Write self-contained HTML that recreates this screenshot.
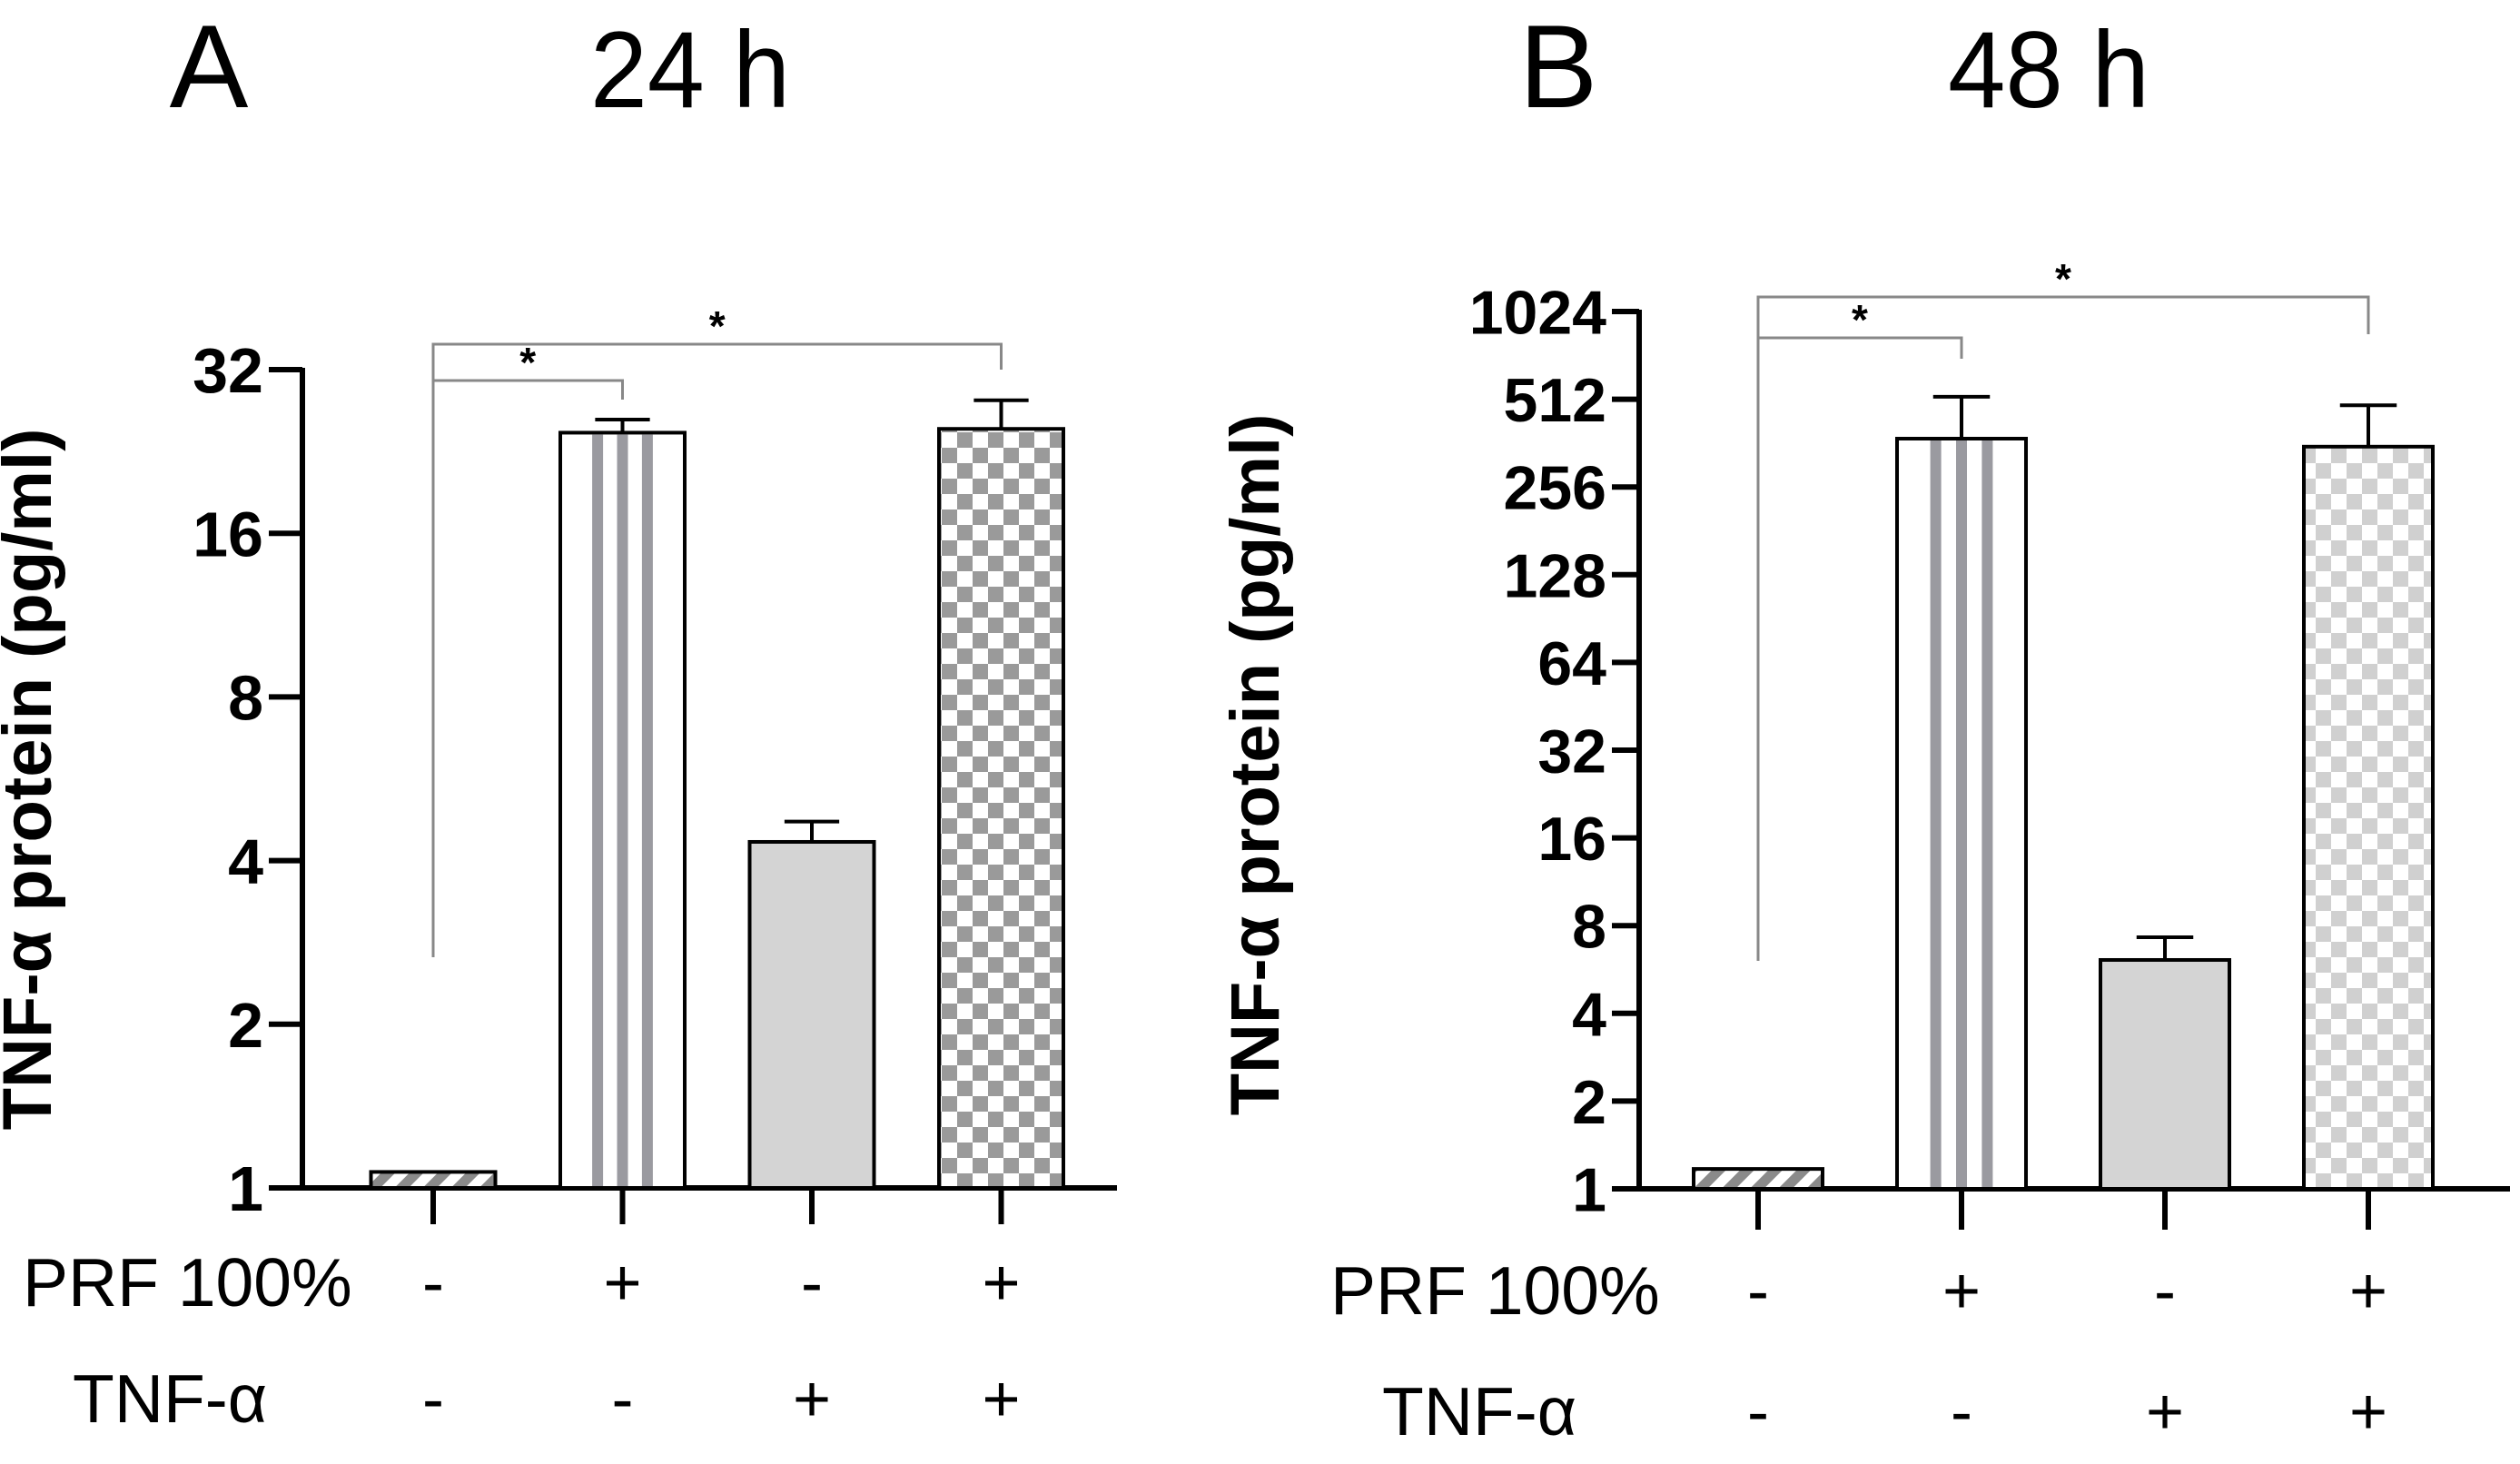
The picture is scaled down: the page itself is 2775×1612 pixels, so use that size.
<!DOCTYPE html>
<html><head><meta charset="utf-8"><style>
html,body{margin:0;padding:0;background:#fff}
svg{display:block}
text{font-family:"Liberation Sans",sans-serif}
</style></head><body>
<svg id="chart" width="2775" height="1612" viewBox="0 0 2775 1612" xmlns="http://www.w3.org/2000/svg">
<defs>
<pattern id="diag" patternUnits="userSpaceOnUse" width="22" height="22" patternTransform="rotate(45)"><rect width="22" height="22" fill="#fff"/><rect width="11" height="22" fill="#8a8a8a"/></pattern>
<pattern id="checkA" patternUnits="userSpaceOnUse" width="34" height="34"><rect width="34" height="34" fill="#fff"/><rect width="17" height="17" fill="#9a9a9a"/><rect x="17" y="17" width="17" height="17" fill="#9a9a9a"/></pattern>
<pattern id="checkB" patternUnits="userSpaceOnUse" width="34" height="34"><rect width="34" height="34" fill="#fff"/><rect width="17" height="17" fill="#d0d0d0"/><rect x="17" y="17" width="17" height="17" fill="#d0d0d0"/></pattern>
</defs>
<text x="230" y="118" font-size="130" text-anchor="middle">A</text>
<text x="760" y="118" font-size="120" text-anchor="middle" textLength="220" lengthAdjust="spacingAndGlyphs">24 h</text>
<text x="1716" y="118" font-size="130" text-anchor="middle">B</text>
<text x="2256" y="118" font-size="120" text-anchor="middle" textLength="222" lengthAdjust="spacingAndGlyphs">48 h</text>
<g id="pa"></g>
<g id="pb"></g>
</svg>
<script>
// Panel A (24 h)
const categories = ["ctrl","PRF","TNF","PRF+TNF"];
const prfRow = ["-","+","-","+"];
const tnfRow = ["-","-","+","+"];
const fills = ["url(#diag)","stripes","#d4d4d4","check"];
const valuesA = [1.07, 24.5, 4.33, 24.9];
const errorsA = [0, 1.4, 0.39, 3.2];
const ticksA = [1,2,4,8,16,32];
// Panel B (48 h)
const valuesB = [1.17, 375, 6.1, 352];
const errorsB = [0, 147, 1.2, 136];
const ticksB = [1,2,4,8,16,32,64,128,256,512,1024];
const sigA = [[0,1,"*"],[0,3,"*"]];
const sigB = [[0,1,"*"],[0,3,"*"]];

const NS="http://www.w3.org/2000/svg";
function mk(parent,tag,attrs){const e=document.createElementNS(NS,tag);for(const k in attrs)e.setAttribute(k,attrs[k]);parent.appendChild(e);return e;}

function panel(g,cfg){
  const y=v=>cfg.base-Math.log2(v)/Math.log2(cfg.max)*(cfg.base-cfg.top);
  const x=i=>cfg.x0+i*cfg.step;
  let a=mk(g,"line",{x1:cfg.ax,y1:y(cfg.max)-2,x2:cfg.ax,y2:cfg.base+3,stroke:"#000","stroke-width":6});
  
  
  a=mk(g,"line",{x1:cfg.ax-3,y1:cfg.base,x2:cfg.axEnd,y2:cfg.base,stroke:"#000","stroke-width":6});
  
  
  cfg.ticks.forEach(t=>{
    const tk=mk(g,"line",{x1:cfg.ax-cfg.tickLen,y1:y(t),x2:cfg.ax,y2:y(t),stroke:"#000","stroke-width":6});
    
    
    const tl=mk(g,"text",{x:cfg.ax-cfg.tickLen-6,y:y(t)+cfg.tfs*0.36,"font-size":cfg.tfs,"font-weight":"bold","text-anchor":"end"});
    tl.textContent=t;
    
    
  });
  const yt=mk(g,"text",{x:0,y:0,"font-size":cfg.yfs,"font-weight":"bold","text-anchor":"middle",transform:`translate(${cfg.ytx},${cfg.yty}) rotate(-90)`});
  yt.textContent="TNF-α protein (pg/ml)";
  
  
  cfg.values.forEach((v,i)=>{
    const cx=x(i), l=cx-cfg.bw/2, top=y(v);
    const e=cfg.errors[i];
    if(e>0){
      const et=y(v+e);
      const el=mk(g,"path",{d:`M${cx},${top} V${et} M${cx-cfg.bw*0.22},${et} H${cx+cfg.bw*0.22}`,stroke:"#000","stroke-width":4,fill:"none"});
      
      
    }
    let f=fills[i];
    if(f==="check") f=cfg.check;
    const bg=f==="stripes"?"#fff":f;
    const r=mk(g,"rect",{x:l,y:top,width:cfg.bw,height:cfg.base-top,fill:bg,stroke:"#000","stroke-width":4});
    
    
    if(f==="stripes"){
      [0.3,0.5,0.7].forEach(p=>{
        const s=mk(g,"rect",{x:l+cfg.bw*p-6,y:top+2,width:12,height:cfg.base-top-4,fill:"#9a9aa0"});
        
        
      });
    }
    const xt=mk(g,"line",{x1:cx,y1:cfg.base,x2:cx,y2:cfg.base+cfg.xtick,stroke:"#000","stroke-width":6});
    
    
    [[prfRow[i],cfg.row1],[tnfRow[i],cfg.row2]].forEach(([s,yy])=>{
      const t=mk(g,"text",{x:cx,y:yy+25,"font-size":72,"text-anchor":"middle"});
      t.textContent=s;
      
      
    });
  });
  const l1=mk(g,"text",{x:cfg.lab1,y:cfg.row1+26,"font-size":75});
  l1.textContent="PRF 100%";
  
  
  const l2=mk(g,"text",{x:cfg.lab2,y:cfg.row2+26,"font-size":75});
  l2.textContent="TNF-α";
  
  
  cfg.sig.forEach(([a,b,s],k)=>{
    const by=cfg.br[k], dy=cfg.brDrop[k];
    const d=`M${x(a)},${k===1?cfg.brLeftEnd:by} V${by} H${x(b)} V${by+dy}`;
    const p=mk(g,"path",{d,stroke:"#888","stroke-width":3,fill:"none"});
    
    
    const t=mk(g,"text",{x:(x(a)+x(b))/2,y:by-4,"font-size":46,"font-weight":"bold","text-anchor":"middle"});
    t.textContent=s;
    
    
  });
}
panel(document.getElementById("pa"),{values:valuesA,errors:errorsA,ticks:ticksA,max:32,base:1308,top:407,ax:333,axEnd:1230,tickLen:37,tfs:70,x0:477,step:208.5,bw:137,check:"url(#checkA)",xtick:40,row1:1412,row2:1540,lab1:25,lab2:80,ytx:56,yty:858,yfs:76,sig:sigA,br:[419,379],brDrop:[21,28],brLeftEnd:1054});
panel(document.getElementById("pb"),{values:valuesB,errors:errorsB,ticks:ticksB,max:1024,base:1309,top:343,ax:1805,axEnd:2764,tickLen:30,tfs:68,x0:1936,step:224,bw:142,check:"url(#checkB)",xtick:45,row1:1421,row2:1554,lab1:1465,lab2:1522,ytx:1408,yty:842,yfs:76,sig:sigB,br:[372,327],brDrop:[23,41],brLeftEnd:1058});
</script>
</body></html>
